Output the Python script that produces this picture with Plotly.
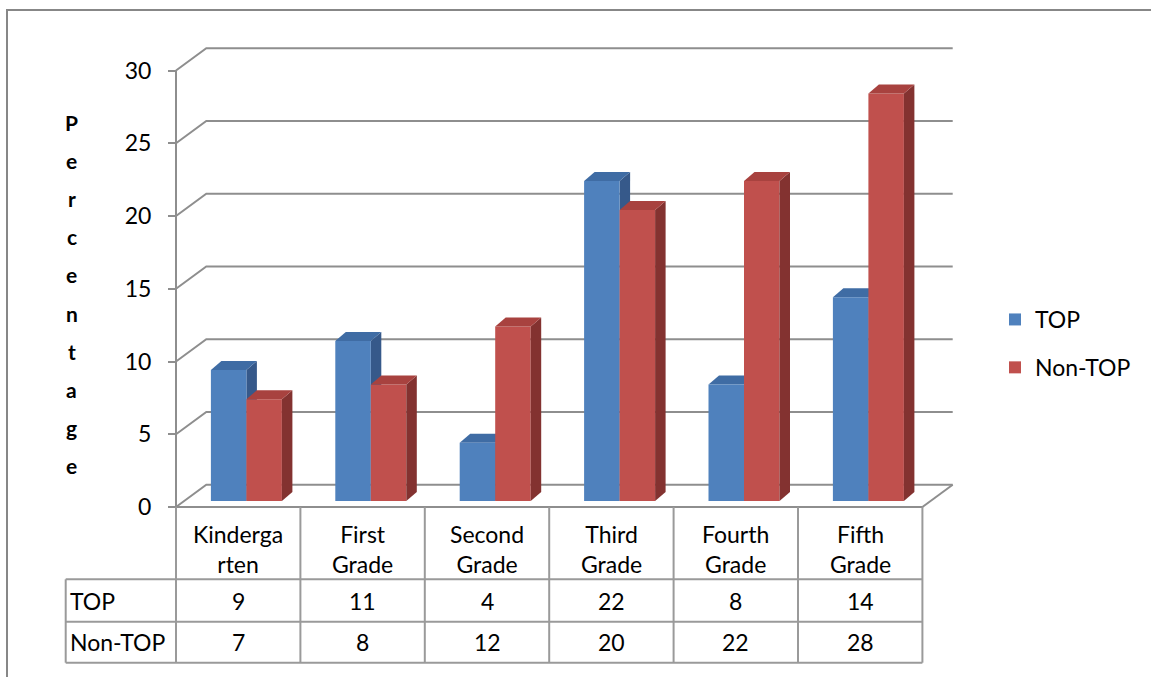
import plotly.graph_objects as go

# ---- data ----
categories = ["Kindergarten", "First Grade", "Second Grade", "Third Grade", "Fourth Grade", "Fifth Grade"]
header_labels = ["Kinderga<br>rten", "First<br>Grade", "Second<br>Grade", "Third<br>Grade", "Fourth<br>Grade", "Fifth<br>Grade"]
series_names = ["TOP", "Non-TOP"]
top_values = [9, 11, 4, 22, 8, 14]
non_top_values = [7, 8, 12, 20, 22, 28]
y_ticks = [0, 5, 10, 15, 20, 25, 30]
axis_title = "Percentage"

# ---- layout geometry (pixels of the 1151x677 canvas) ----
W, H = 1151, 677
FONT = "Lato"
TXT = 23
X0_PX, CAT_PX = 176.0, 124.4      # front-left corner of the floor, width of one category
Y0_PX, UNIT_PX = 507.0, 14.55     # front floor line, pixels per percent


def xd(px):
    return -0.5 + (px - X0_PX) / CAT_PX


def yd(py):
    return (Y0_PX - py) / UNIT_PX


def dxd(px):
    return px / CAT_PX


def dyd(px):
    return px / UNIT_PX


n = len(categories)
WALL_DX, WALL_DY = dxd(30.3), dyd(22.3)   # depth of the 3-D box
BAR_SHIFT_X, BAR_BASE = dxd(8.2), dyd(6.0)  # bars stand a little behind the front edge
BAR_W = dxd(35.5)
BAR_DDX, BAR_DDY = dxd(10.5), dyd(9.0)   # depth of each 3-D bar

GRID = "#8E8E8E"
TABLE = "#9A9A9A"
face = {"TOP": "#4F81BD", "Non-TOP": "#C0504D"}
top_face = {"TOP": "#3F6CA4", "Non-TOP": "#A8423F"}
side_face = {"TOP": "#36598A", "Non-TOP": "#833230"}

fig = go.Figure()
shapes = []
annotations = []

# back wall grid lines, each with the slanted stub from the front axis
x_front = -0.5
x_back_r = n - 0.5 + WALL_DX
for v in y_ticks:
    shapes.append(dict(
        type="path", layer="below",
        path=f"M {x_front} {v} L {x_front + WALL_DX} {v + WALL_DY} L {x_back_r} {v + WALL_DY}",
        line=dict(color=GRID, width=2)))

# floor: right slanted edge
shapes.append(dict(type="line", layer="below", x0=n - 0.5, y0=0, x1=x_back_r, y1=WALL_DY,
                   line=dict(color=GRID, width=2)))
# front value axis line
shapes.append(dict(type="line", layer="below", x0=x_front, y0=0, x1=x_front, y1=y_ticks[-1],
                   line=dict(color=GRID, width=2)))

# 3-D bars: front faces as bar traces, side and top faces as paths
series = [("TOP", top_values, BAR_SHIFT_X - BAR_W), ("Non-TOP", non_top_values, BAR_SHIFT_X)]
for gi, (name, vals, off) in enumerate(series):
    fig.add_trace(go.Bar(
        x=list(range(n)), y=vals, base=BAR_BASE, width=BAR_W, offset=off,
        name=name, legendgroup=name,
        marker=dict(color=face[name], line=dict(width=0)),
        hovertemplate="%{x}: %{y}<extra>" + name + "</extra>"))
    for i, v in enumerate(vals):
        xl = i + off
        xr = xl + BAR_W
        b = BAR_BASE
        t = BAR_BASE + v
        shapes.append(dict(
            type="path", layer="below" if gi == 0 else "above",
            path=f"M {xr} {b} L {xr + BAR_DDX} {b + BAR_DDY} L {xr + BAR_DDX} {t + BAR_DDY} L {xr} {t} Z",
            fillcolor=side_face[name], line=dict(width=0)))
        shapes.append(dict(
            type="path", layer="below" if gi == 0 else "above",
            path=f"M {xl} {t} L {xl + BAR_DDX} {t + BAR_DDY} L {xr + BAR_DDX} {t + BAR_DDY} L {xr} {t} Z",
            fillcolor=top_face[name], line=dict(width=0)))

# data table below the chart
tbl_left = xd(65.7)
row_y = [0.0, yd(579.3), yd(621.7), yd(662.7)]
shapes.append(dict(type="line", layer="above", x0=x_front, y0=0, x1=n - 0.5, y1=0,
                   line=dict(color=GRID, width=2)))
for ry in row_y[1:]:
    shapes.append(dict(type="line", layer="above", x0=tbl_left, y0=ry, x1=n - 0.5, y1=ry,
                       line=dict(color=TABLE, width=2)))
for i in range(n + 1):
    shapes.append(dict(type="line", layer="above", x0=i - 0.5, y0=0, x1=i - 0.5, y1=row_y[-1],
                       line=dict(color=TABLE, width=2)))
shapes.append(dict(type="line", layer="above", x0=tbl_left, y0=row_y[1], x1=tbl_left, y1=row_y[-1],
                   line=dict(color=TABLE, width=2)))

cell_font = dict(family=FONT, size=TXT, color="black")
for i, lab in enumerate(header_labels):
    annotations.append(dict(x=i, y=yd(549), text=lab, showarrow=False,
                            xanchor="center", yanchor="middle", font=cell_font))
for r, (name, vals) in enumerate([("TOP", top_values), ("Non-TOP", non_top_values)]):
    yc = (row_y[r + 1] + row_y[r + 2]) / 2
    annotations.append(dict(x=xd(68), y=yc, text=name, showarrow=False,
                            xanchor="left", yanchor="middle", font=cell_font))
    for i, v in enumerate(vals):
        annotations.append(dict(x=i, y=yc, text=str(v), showarrow=False,
                                xanchor="center", yanchor="middle", font=cell_font))

# vertical, letter-stacked axis title
for k, ch in enumerate(axis_title):
    annotations.append(dict(x=xd(71.7), y=yd(122 + k * 38.2), text=f"<b>{ch}</b>", showarrow=False,
                            xanchor="center", yanchor="middle",
                            font=dict(family=FONT, size=21, color="black")))

# outer chart border
shapes.append(dict(type="path", xref="paper", yref="paper", layer="above",
                   path=f"M 1.0 {1 - 10 / H} L {7 / W} {1 - 10 / H} L {7 / W} 0",
                   line=dict(color="#878787", width=2)))

fig.update_layout(
    width=W, height=H,
    margin=dict(l=0, r=0, t=0, b=0),
    paper_bgcolor="white", plot_bgcolor="white",
    barmode="overlay",
    font=dict(family=FONT, size=TXT, color="black"),
    xaxis=dict(range=[xd(0), xd(W)], visible=False, fixedrange=True),
    yaxis=dict(range=[yd(H), yd(0)], anchor="free", position=X0_PX / W,
               tickvals=y_ticks, ticks="outside", ticklen=8, tickwidth=2, tickcolor=GRID,
               showgrid=False, zeroline=False, showline=False, ticklabelstandoff=12,
               tickfont=dict(family=FONT, size=TXT, color="black"), fixedrange=True),
    legend=dict(x=995 / W, y=1 - 298 / H, xanchor="left", yanchor="top",
                font=dict(family=FONT, size=TXT, color="black"),
                tracegroupgap=15, bgcolor="rgba(0,0,0,0)"),
    shapes=shapes, annotations=annotations,
)

fig.write_html("out.html")
